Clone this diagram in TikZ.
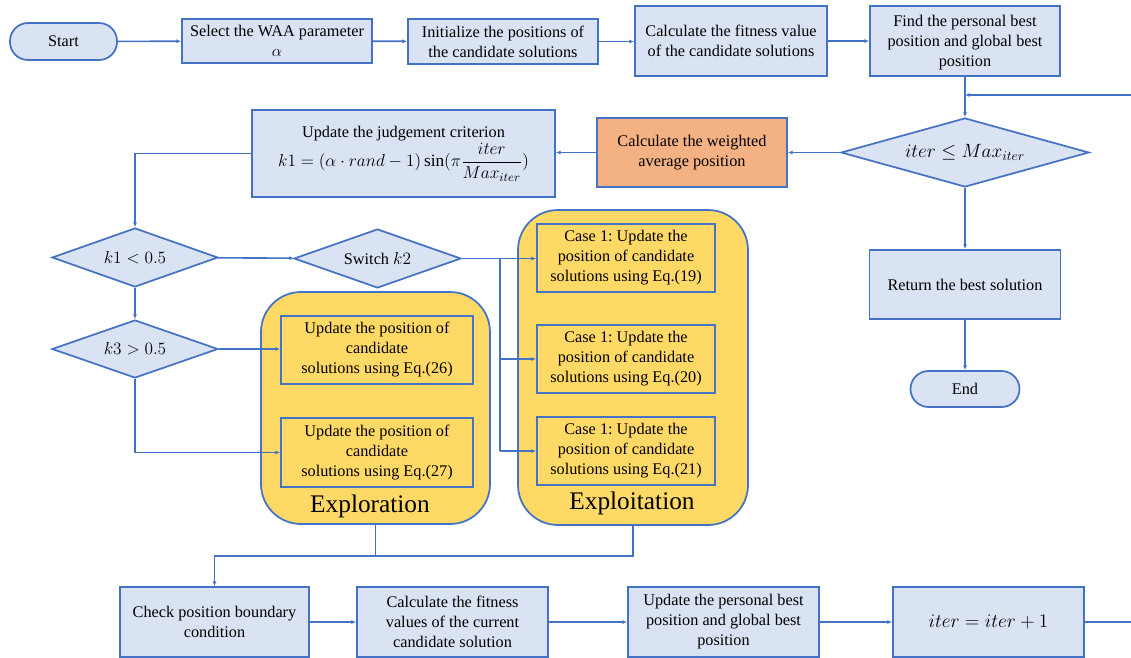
\RequirePackage{fix-cm}
\documentclass[tikz,border=0pt]{standalone}
\usepackage{fontspec}
\setmainfont{Liberation Serif}
\usetikzlibrary{shapes.geometric,arrows.meta}
\definecolor{bord}{HTML}{4472C4}
\definecolor{bfill}{HTML}{DAE3F3}
\definecolor{gold}{HTML}{FFD966}
\definecolor{orng}{HTML}{F4B183}
\begin{document}
\frenchspacing
\begin{tikzpicture}[x=0.75pt,y=-0.75pt,
  every node/.style={font=\fontsize{12.2}{15}\selectfont, align=center, inner sep=0pt},
  wh/.style 2 args={minimum width=#1*0.75pt, minimum height=#2*0.75pt},
  box/.style={rectangle, draw=bord, fill=bfill, line width=1.3pt},
  gbox/.style={rectangle, draw=bord, fill=gold, line width=1.3pt},
  obox/.style={rectangle, draw=bord, fill=orng, line width=1.3pt},
  term/.style={rectangle, rounded corners=18*0.75pt, draw=bord, fill=bfill, line width=1.3pt},
  group/.style={rectangle, rounded corners=40*0.75pt, draw=bord, fill=gold, line width=1.3pt},
  dia/.style={diamond, draw=bord, fill=bfill, line width=1.3pt},
  mth/.style={font=\fontsize{13}{16}\selectfont},
  bigmth/.style={font=\fontsize{14.4}{17}\selectfont},
  lbl/.style={font=\fontsize{19}{22}\selectfont},
  conn/.style={draw=bord, line width=1.2pt},
  arr/.style={conn, -{Latex[length=3.5pt,width=3pt]}}
]
\useasboundingbox (0,0) rectangle (1131,657);
\clip (0,0) rectangle (1131,657);

% top row
\node[term, wh={107}{37}] (start) at (63.5,41.5) {Start};
\node[box, wh={190}{44}] (sel) at (277,41) {Select the WAA parameter\\$\alpha$};
\node[box, wh={190}{45}] (init) at (503,41.5) {Initialize the positions of\\the candidate solutions};
\node[box, wh={192}{70}] (calc) at (731,41) {Calculate the fitness value\\of the candidate solutions};
\node[box, wh={190}{70}, text depth=0pt] (find) at (965,41) {Find the personal best\\position and global best\\position\rule[-3pt]{0pt}{3pt}};

% second row
\node[dia, bigmth, shape aspect=3.6, wh={248}{69}] (cond) at (965,152.5) {$iter \leq Max_{iter}$};
\node[obox, wh={190}{69}] (wavg) at (692,152.5) {Calculate the weighted\\average position};
\node[box, wh={303}{87}] (judge) at (403.5,153.5) {Update the judgement criterion\\[1pt]{\fontsize{13}{15}\selectfont$\displaystyle k1=(\alpha\cdot rand-1)\sin(\pi\frac{iter}{Max_{iter}})$}};

% diamonds
\node[dia, mth, shape aspect=2.8, wh={166}{59}] (k1) at (135,257.5) {$k1<0.5$};
\node[dia, shape aspect=2.83, wh={167}{59}] (sw) at (377.5,258.5) {Switch {\fontsize{13}{15}\selectfont$k2$}};
\node[dia, mth, shape aspect=2.86, wh={166}{58}] (k3) at (135,349) {$k3>0.5$};

% groups
\node[group, wh={229}{232}] (explo) at (375.5,408) {};
\node[group, wh={230}{315}] (exploi) at (633,367.5) {};
\node[gbox, wh={192}{68}] (u26) at (377,350) {Update the position of\\candidate\\solutions using Eq.(26)};
\node[gbox, wh={192}{69}] (u27) at (377,452.5) {Update the position of\\candidate\\solutions using Eq.(27)};
\node[lbl] (explol) at (370,506) {Exploration};
\node[gbox, wh={178}{68}] (c19) at (626,258) {Case 1: Update the\\position of candidate\\solutions using Eq.(19)};
\node[gbox, wh={178}{68}] (c20) at (626,359) {Case 1: Update the\\position of candidate\\solutions using Eq.(20)};
\node[gbox, wh={178}{68}] (c21) at (626,451) {Case 1: Update the\\position of candidate\\solutions using Eq.(21)};
\node[lbl] (exploil) at (632,503) {Exploitation};

% right column
\node[box, wh={191}{69}] (ret) at (965,284.5) {Return the best solution};
\node[term, wh={109}{36}] (end) at (965,389) {End};

% bottom row
\node[box, wh={189}{70}] (chk) at (214.5,622) {Check position boundary\\condition};
\node[box, wh={191}{70}] (cal2) at (452.5,622) {Calculate the fitness\\values of the current\\candidate solution};
\node[box, wh={191}{70}] (upd) at (723.5,622) {Update the personal best\\position and global best\\position};
\node[box, bigmth, wh={191}{70}] (inc) at (988.5,622) {$iter=iter+1$};

% connectors top
\draw[arr] (start) -- (sel);
\draw[arr] (sel) -- (init);
\draw[arr] (init) -- (calc.west |- init);
\draw[arr] (calc) -- (find);
\coordinate (loopin) at (1131,95);
\coordinate (loopout) at (1131,622);
\draw[arr] (loopin) -- (find.south |- loopin);
\draw[arr] (find) -- (cond);
\draw[arr] (cond) -- (wavg);
\draw[arr] (wavg) -- (judge.east |- wavg);
\draw[arr] (judge.west) -| (k1.north);
\draw[arr] (k1) -- (sw);
\draw[arr] (k1) -- (k3);
\draw[arr] (k3) -- (u26.west |- k3);
\draw[arr] (k3.south) |- (u27.west);

% switch bus
\coordinate (bus) at (500,258.5);
\draw[conn] (sw.east) -- (bus) -- (bus |- c21);
\draw[arr] (bus) -- (c19.west |- bus);
\draw[arr] (bus |- c20) -- (c20.west);
\draw[arr] (bus |- c21) -- (c21.west);

% merge
\coordinate (mrg) at (376,556);
\draw[conn] (explo.south) -- (explo.south |- mrg) -- (exploi.south |- mrg) -- (exploi.south);
\draw[arr] (explo.south |- mrg) -| (chk.north);

% bottom row
\draw[arr] (chk) -- (cal2);
\draw[arr] (cal2) -- (upd);
\draw[arr] (upd) -- (inc);
\draw[conn] (inc) -- (loopout);

% right column
\draw[arr] (cond) -- (ret);
\draw[arr] (ret) -- (end);
\end{tikzpicture}
\end{document}
